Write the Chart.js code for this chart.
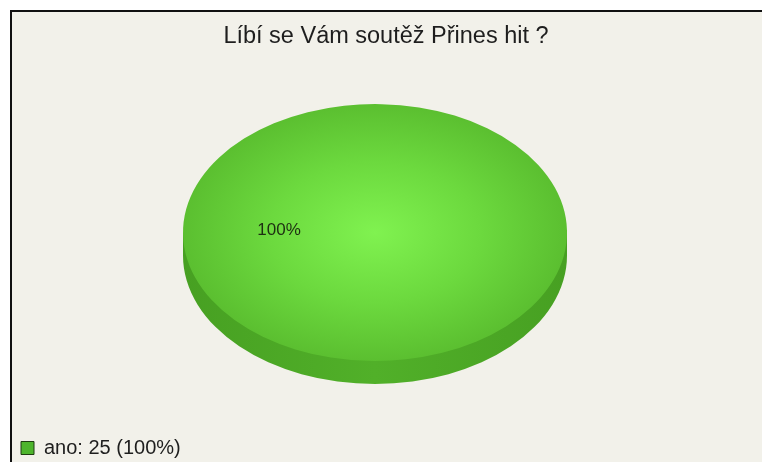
<!DOCTYPE html>
<html><head><meta charset="utf-8">
<script src="https://cdn.jsdelivr.net/npm/chart.js@4/dist/chart.umd.min.js"></script>
<style>
html,body{margin:0;padding:0;background:#fff;}
#wrap{position:relative;width:762px;height:462px;overflow:hidden;}
#frame{position:absolute;left:10px;top:10px;right:0;bottom:0;background:#f2f1ea;border-top:2px solid #111;border-left:2px solid #111;}
canvas{position:absolute;left:0;top:0;}
</style></head><body>
<div id="wrap"><div id="frame"></div><canvas id="c" width="762" height="462"></canvas></div>
<script>
const titleText = 'Líbí se Vám soutěž Přines hit ?';
const categories = ['ano'];
const values = [25];

const total = values.reduce((a, b) => a + b, 0);
const pct = v => Math.round(v / total * 100);

// Title centred over the framed panel (frame starts at x = frameLeft)
const frameTitle = {
  id: 'frameTitle',
  afterDraw(chart, args, opts) {
    const ctx = chart.ctx;
    ctx.save();
    ctx.font = opts.font;
    ctx.fillStyle = opts.color;
    ctx.textAlign = 'center';
    ctx.textBaseline = 'alphabetic';
    ctx.fillText(opts.text, (opts.frameLeft + chart.width) / 2, opts.baseline);
    ctx.restore();
  }
};

const pie3d = {
  id: 'pie3d',
  beforeDatasetsDraw(chart, args, opts) {
    const ctx = chart.ctx;
    ctx.save();
    const arc = chart.getDatasetMeta(0).data[0];
    if (!arc) return;
    const { x, y, outerRadius: r } = arc;
    ctx.translate(x, y); ctx.scale(1, opts.tilt); ctx.translate(-x, -y);
    const d = opts.depth / opts.tilt;
    const g = ctx.createLinearGradient(x - r, 0, x + r, 0);
    g.addColorStop(0, '#47a022'); g.addColorStop(0.5, '#51b029'); g.addColorStop(1, '#47a022');
    ctx.beginPath();
    ctx.rect(x - r, y, 2 * r, d);
    ctx.moveTo(x + r, y + d);
    ctx.arc(x, y + d, r, 0, Math.PI * 2);
    ctx.fillStyle = g;
    ctx.fill();
  },
  afterDatasetsDraw(chart, args, opts) {
    const ctx = chart.ctx;
    ctx.restore();
    const meta = chart.getDatasetMeta(0);
    ctx.save();
    ctx.font = opts.labelFont;
    ctx.fillStyle = opts.labelColor;
    ctx.textAlign = 'center';
    ctx.textBaseline = 'middle';
    meta.data.forEach((arc, i) => {
      const p = arc.getCenterPoint();
      const ly = arc.y + (p.y - arc.y) * opts.tilt;
      ctx.fillText(pct(values[i]) + '%', p.x, ly);
    });
    ctx.restore();
  }
};

function topGradient(c) {
  const a = c.chart.chartArea;
  if (!a) return '#6cd93e';
  const cx = (a.left + a.right) / 2, cy = (a.top + a.bottom) / 2;
  const g = c.chart.ctx.createRadialGradient(cx, cy, 0, cx, cy, 192);
  g.addColorStop(0, '#80f250');
  g.addColorStop(0.55, '#6cd93e');
  g.addColorStop(1, '#5bbf30');
  return g;
}

new Chart(document.getElementById('c'), {
  type: 'pie',
  data: {
    labels: categories,
    datasets: [{
      data: values,
      backgroundColor: topGradient,
      borderWidth: 0,
      radius: 192,
      rotation: 92
    }]
  },
  options: {
    responsive: false,
    devicePixelRatio: 1,
    animation: false,
    layout: { padding: { left: 19, right: 31, top: 29, bottom: -6 } },
    plugins: {
      frameTitle: { text: titleText, font: '23.5px "Liberation Sans", Arial, sans-serif', color: '#1e1e1e', frameLeft: 10, baseline: 43 },
      pie3d: { tilt: 0.669, depth: 23, labelFont: '17px "Liberation Sans", Arial, sans-serif', labelColor: '#1d2e12' },
      title: { display: false },
      legend: {
        display: true,
        position: 'bottom',
        align: 'start',
        labels: {
          padding: 2,
          boxWidth: 13,
          boxHeight: 13,
          color: '#1e1e1e',
          font: { family: '"Liberation Sans", Arial, sans-serif', size: 20 },
          generateLabels: () => categories.map((c, i) => ({
            text: `${c}: ${values[i]} (${pct(values[i])}%)`,
            fillStyle: '#4db52c',
            strokeStyle: '#1f3d12',
            lineWidth: 1,
            fontColor: '#1e1e1e',
            index: i
          }))
        }
      },
      tooltip: { enabled: false }
    }
  },
  plugins: [pie3d, frameTitle]
});
</script>
</body></html>
